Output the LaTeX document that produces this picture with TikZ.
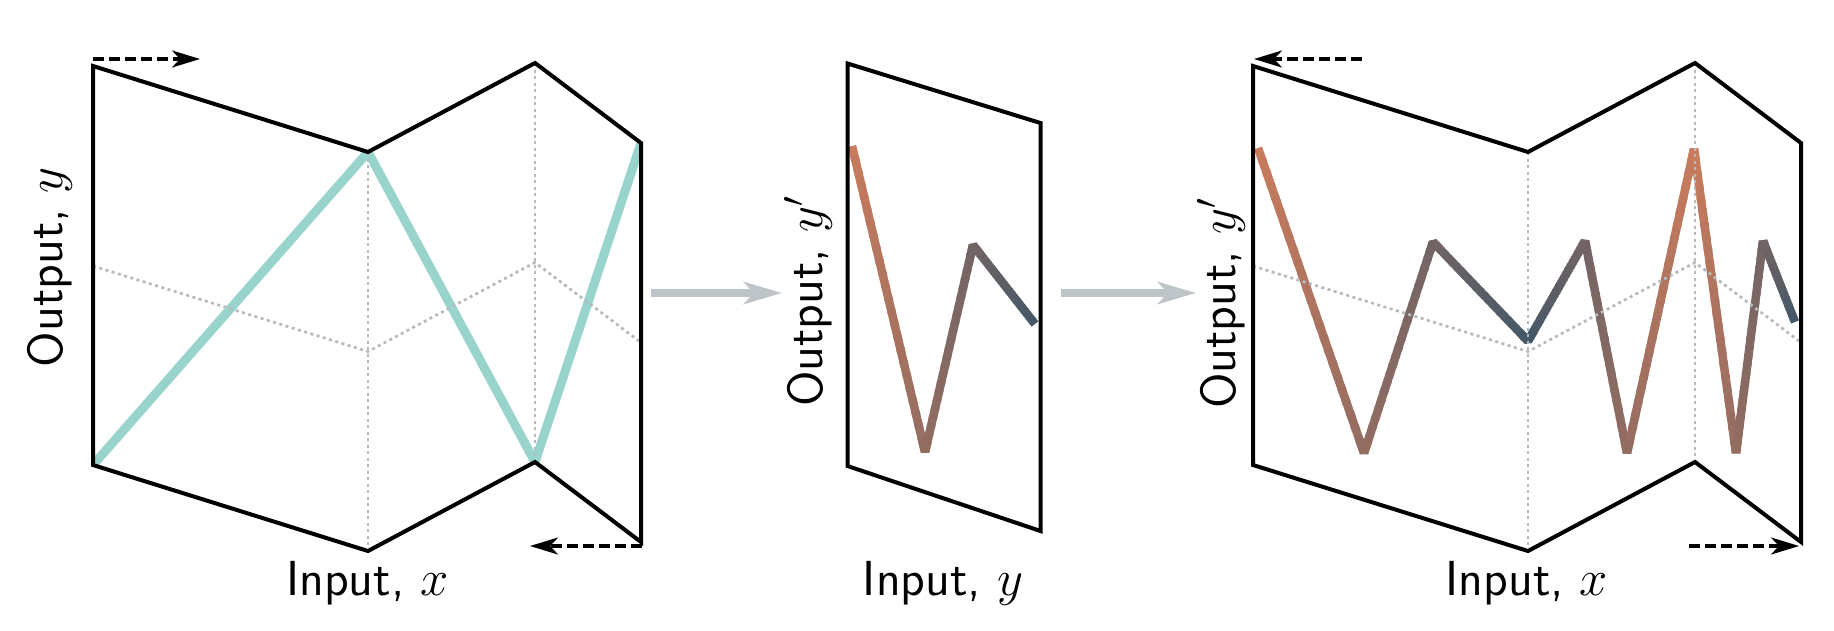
\documentclass[tikz,border=0pt]{standalone}
\usetikzlibrary{arrows.meta,calc}
\definecolor{corange}{RGB}{201,123,93}
\definecolor{cblue}{RGB}{68,88,104}
\definecolor{ccyan}{RGB}{152,212,203}
\definecolor{dotgray}{RGB}{180,187,191}
\definecolor{agray}{RGB}{190,197,200}
\tikzset{
  outline/.style={line width=0.04cm, line join=miter, draw=black},
  dotl/.style={line width=0.027cm, draw=dotgray, dash pattern=on 0.03cm off 0.035cm},
  gline/.style={line width=0.085cm, line cap=butt},
  cyanline/.style={line width=0.09cm, draw=ccyan, line join=miter},
  darrow/.style={line width=0.033cm, dash pattern=on 0.11cm off 0.05cm, -{Stealth[length=0.28cm,width=0.17cm,inset=0.08cm]}},
  garrow/.style={line width=0.075cm, draw=agray, -{Stealth[length=0.38cm,width=0.22cm,inset=0.1cm]}},
  lab/.style={font=\fontsize{14}{16}\selectfont\sffamily, inner sep=0pt},
}
\newcommand{\gradseg}[4]{%
  \foreach \k in {0,...,23}{%
    \pgfmathsetmacro{\gA}{max(0,\k/24-0.008)}%
    \pgfmathsetmacro{\gB}{min(1,(\k+1)/24+0.008)}%
    \pgfmathsetmacro{\gC}{100*(#2+(#4-#2)*(\k+0.5)/24)}%
    \draw[gline, draw=cblue!\gC!corange] ($(#1)!\gA!(#3)$) -- ($(#1)!\gB!(#3)$);%
  }%
}
\newcommand{\gvert}[4]{%
  \pgfmathsetmacro{\gV}{100*#4}%
  \draw[gline, line join=bevel, draw=cblue!\gV!corange] ($(#2)!0.12cm!(#1)$) -- (#2) -- ($(#2)!0.12cm!(#3)$);%
}
\begin{document}
\begin{tikzpicture}[x=0.01cm, y=-0.01cm]
\useasboundingbox (0,0) rectangle (1834,630);

% ---------- left panel ----------
\coordinate (La) at (93,66);   \coordinate (Lb) at (368,152);
\coordinate (Lc) at (535,63);  \coordinate (Ld) at (641,143);
\coordinate (Le) at (641,542); \coordinate (Lf) at (535,462);
\coordinate (Lg) at (368,551); \coordinate (Lh) at (93,465);
\coordinate (Lm1) at (93,266);  \coordinate (Lm2) at (368,351.5);
\coordinate (Lm3) at (535,262.5); \coordinate (Lm4) at (641,342.5);

\begin{scope}
  \clip (La) -- (Lb) -- (Lc) -- (Ld) -- (Le) -- (Lf) -- (Lg) -- (Lh) -- cycle;
  \draw[cyanline] (Lh) -- (Lb) -- (Lf) -- (Ld);
\end{scope}
\draw[dotl] (Lb) -- (Lg);
\draw[dotl] (Lc) -- (Lf);
\draw[dotl] (Lm1) -- (Lm2) -- (Lm3) -- (Lm4);
\draw[outline] (La) -- (Lb) -- (Lc) -- (Ld) -- (Le) -- (Lf) -- (Lg) -- (Lh) -- cycle;

\coordinate (LaA) at (93,59);   \coordinate (LaB) at (200,59);
\coordinate (LbA) at (642,546); \coordinate (LbB) at (530,546);
\draw[darrow] (LaA) -- (LaB);
\draw[darrow] (LbA) -- (LbB);

\node[lab, rotate=90, anchor=base] (ly) at (62,267) {Output, $y$};
\node[lab, anchor=base] (lx) at (367.5,595) {Input, $x$};

% ---------- arrows between panels ----------
\coordinate (G1a) at (651,293); \coordinate (G1b) at (782,293);
\coordinate (G2a) at (1061,293); \coordinate (G2b) at (1196,293);
\draw[garrow] (G1a) -- (G1b);
\draw[garrow] (G2a) -- (G2b);

% ---------- middle panel ----------
\coordinate (Ma) at (847.5,63.5); \coordinate (Mb) at (1040.5,123);
\coordinate (Mc) at (1040.5,531); \coordinate (Md) at (847.5,466);
\coordinate (M0) at (852,146);  \coordinate (M1) at (925,452);
\coordinate (M2) at (973,245);  \coordinate (M3) at (1035,324);
\gradseg{M0}{0}{M1}{0.4}
\gradseg{M1}{0.4}{M2}{0.65}
\gradseg{M2}{0.65}{M3}{1}
\gvert{M0}{M1}{M2}{0.4}
\gvert{M1}{M2}{M3}{0.65}
\draw[outline] (Ma) -- (Mb) -- (Mc) -- (Md) -- cycle;
\node[lab, rotate=90, anchor=base] (my) at (822,301) {Output, $y'$};
\node[lab, anchor=base] (mx) at (943,595) {Input, $y$};

% ---------- right panel ----------
\coordinate (Ra) at (1253,66);   \coordinate (Rb) at (1528,152);
\coordinate (Rc) at (1695,63);   \coordinate (Rd) at (1801,143);
\coordinate (Re) at (1801,542);  \coordinate (Rf) at (1695,462);
\coordinate (Rg) at (1528,551);  \coordinate (Rh) at (1253,465);
\coordinate (Rm1) at (1253,266);  \coordinate (Rm2) at (1528,351.5);
\coordinate (Rm3) at (1695,262.5); \coordinate (Rm4) at (1801,342.5);

\coordinate (R0) at (1258,148); \coordinate (R1) at (1364,453);
\coordinate (R2) at (1433,242); \coordinate (R3) at (1528,341);
\coordinate (R4) at (1585,241); \coordinate (R5) at (1627,453);
\coordinate (R6) at (1694,149); \coordinate (R7) at (1736,453);
\coordinate (R8) at (1763,241); \coordinate (R9) at (1795,322);
\gradseg{R0}{0}{R1}{0.4}
\gradseg{R1}{0.4}{R2}{0.65}
\gradseg{R2}{0.65}{R3}{1}
\gradseg{R3}{1}{R4}{0.65}
\gradseg{R4}{0.65}{R5}{0.4}
\gradseg{R5}{0.4}{R6}{0}
\gradseg{R6}{0}{R7}{0.4}
\gradseg{R7}{0.4}{R8}{0.65}
\gradseg{R8}{0.65}{R9}{1}
\gvert{R0}{R1}{R2}{0.4}
\gvert{R1}{R2}{R3}{0.65}
\gvert{R2}{R3}{R4}{1}
\gvert{R3}{R4}{R5}{0.65}
\gvert{R4}{R5}{R6}{0.4}
\gvert{R5}{R6}{R7}{0}
\gvert{R6}{R7}{R8}{0.4}
\gvert{R7}{R8}{R9}{0.65}

\draw[dotl] (Rb) -- (Rg);
\draw[dotl] (Rc) -- (Rf);
\draw[dotl] (Rm1) -- (Rm2) -- (Rm3) -- (Rm4);
\draw[outline] (Ra) -- (Rb) -- (Rc) -- (Rd) -- (Re) -- (Rf) -- (Rg) -- (Rh) -- cycle;

\coordinate (RaA) at (1362,59);  \coordinate (RaB) at (1254,59);
\coordinate (RbA) at (1689,546); \coordinate (RbB) at (1799,546);
\draw[darrow] (RaA) -- (RaB);
\draw[darrow] (RbA) -- (RbB);

\node[lab, rotate=90, anchor=base] (ry) at (1235,303) {Output, $y'$};
\node[lab, anchor=base] (rx) at (1527,595) {Input, $x$};
\end{tikzpicture}
\end{document}
